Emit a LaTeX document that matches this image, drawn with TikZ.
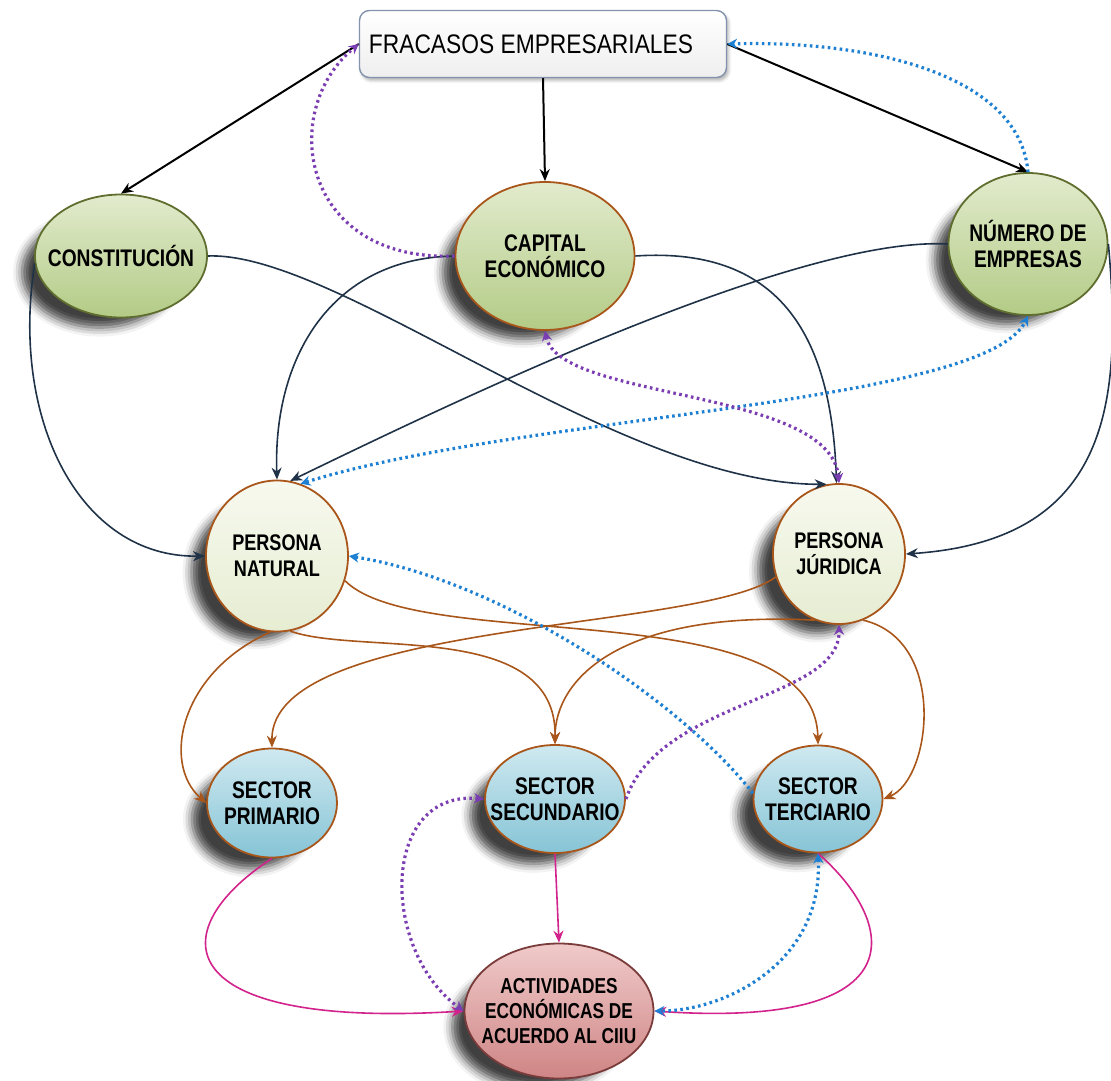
\documentclass[tikz,border=0pt]{standalone}
\usepackage{fontspec}
\newfontfamily\lbl[FakeStretch=0.8]{Liberation Sans}
\newfontfamily\ttl[FakeStretch=0.85]{Liberation Sans}
\usetikzlibrary{shapes.geometric,arrows.meta,shadows.blur}
\definecolor{gtop}{HTML}{E2EBCD}
\definecolor{gbot}{HTML}{B3CB86}
\definecolor{gbrd}{HTML}{5F6E2E}
\definecolor{brn}{HTML}{A9561B}
\definecolor{ptop}{HTML}{F7F9EE}
\definecolor{pbot}{HTML}{E6EDD2}
\definecolor{stop}{HTML}{CFE9F0}
\definecolor{sbot}{HTML}{86C4D6}
\definecolor{atop}{HTML}{F0CACA}
\definecolor{abot}{HTML}{CF8585}
\definecolor{abrd}{HTML}{7A3B3B}
\definecolor{navy}{HTML}{1F3247}
\definecolor{mag}{HTML}{D2238C}
\definecolor{dblue}{HTML}{1E80D2}
\definecolor{dpurp}{HTML}{7B3DB2}
\definecolor{boxbrd}{HTML}{8393AD}
\tikzset{
  nbase/.style={ellipse, draw, line width=0.9pt, inner sep=0pt,
    blur shadow={shadow xshift=-12pt, shadow yshift=-9pt, shadow scale=0.9, shadow blur radius=5pt, shadow opacity=75}},
  gnode/.style={nbase, draw=gbrd, top color=gtop, bottom color=gbot},
  pnode/.style={nbase, draw=brn, top color=ptop, bottom color=pbot},
  snode/.style={nbase, draw=brn, top color=stop, bottom color=sbot},
  anode/.style={nbase, draw=abrd, top color=atop, bottom color=abot},
  txt/.style={align=center, inner sep=0pt, font=\lbl\bfseries\fontsize{12}{13}\selectfont},
  ptxt/.style={txt, font=\lbl\bfseries\fontsize{11.3}{13}\selectfont},
  atxt/.style={txt, font=\lbl\bfseries\fontsize{10.8}{12.6}\selectfont},
  tbox/.style={rectangle, rounded corners=5pt, draw=boxbrd, line width=0.7pt, top color=white, bottom color=gray!13,
    minimum width=183.5pt, minimum height=33.5pt, font=\ttl\fontsize{13.4}{15}\selectfont,
    blur shadow={shadow xshift=1pt, shadow yshift=-1.5pt, shadow blur radius=1.5pt, shadow opacity=30}},
  blk/.style={draw=black, line width=1pt, -{Stealth[length=6pt,width=5pt]}},
  nav/.style={draw=navy, line width=0.8pt, -{Stealth[length=6pt,width=5pt]}},
  brw/.style={draw=brn, line width=0.8pt, -{Stealth[length=6pt,width=5pt]}},
  mgt/.style={draw=mag, line width=0.8pt, -{Stealth[length=6pt,width=5pt]}},
  dotb/.style={draw=dblue, line width=1.6pt, dash pattern=on 1.3pt off 1.7pt, >={Stealth[length=5pt,width=5pt]}},
  dotp/.style={draw=dpurp, line width=1.6pt, dash pattern=on 1.3pt off 1.7pt, >={Stealth[length=5pt,width=5pt]}},
}
\begin{document}
\begin{tikzpicture}[x=0.5pt,y=-0.5pt]
\useasboundingbox (0,0) rectangle (1111,1080);
% nodes
\node[tbox] (frac) at (543,44) {\hspace*{-12pt}FRACASOS EMPRESARIALES};
\node[gnode, minimum width=86pt, minimum height=61.5pt] (const) at (121,256) {};
\node[txt] (constT) at (const) {CONSTITUCIÓN};
\node[gnode, draw=brn, minimum width=89.5pt, minimum height=74pt] (cap) at (545,256) {};
\node[txt] (capT) at (cap) {CAPITAL\\ECONÓMICO};
\node[gnode, minimum width=79.5pt, minimum height=71pt] (num) at (1028,244) {};
\node[txt] (numT) at (num) {NÚMERO DE\\EMPRESAS};
\node[pnode, minimum width=71pt, minimum height=75.5pt] (pn) at (277,556) {};
\node[ptxt] (pnT) at (pn) {PERSONA\\NATURAL};
\node[pnode, minimum width=66pt, minimum height=70pt] (pj) at (839,554) {};
\node[ptxt] (pjT) at (pj) {PERSONA\\JÚRIDICA};
\node[snode, minimum width=65pt, minimum height=54.5pt] (sp) at (272,803) {};
\node[txt] (spT) at (sp) {SECTOR\\PRIMARIO};
\node[snode, minimum width=70pt, minimum height=54pt] (ss) at (555,799) {};
\node[txt] (ssT) at (ss) {SECTOR\\SECUNDARIO};
\node[snode, minimum width=64.5pt, minimum height=53.5pt] (st) at (818,799) {};
\node[txt] (stT) at (st) {SECTOR\\TERCIARIO};
\node[anode, minimum width=94.5pt, minimum height=67.5pt] (act) at (559,1011) {};
\node[atxt] (actT) at (act) {ACTIVIDADES\\ECONÓMICAS DE\\ACUERDO AL CIIU};

% black arrows from the title
\draw[blk] (frac.west) -- (const.north);
\draw[blk] (frac.south) -- (cap.north);
\draw[blk] (frac.east) -- (num.north);

% navy curves
\draw[nav] (const.east) .. controls +(130,-5) and +(-210,0) .. (pj.100);
\draw[nav] (const.185) .. controls (10,420) and (80,558) .. (pn.west);
\draw[nav] (cap.west) .. controls +(-125,2) and +(-4,-120) .. (pn.north);
\draw[nav] (num.west) .. controls +(-150,-8) and +(165,-80) .. (pn.80);
\draw[nav] (num.east) .. controls (1122,400) and (1112,540) .. (pj.east);
\draw[nav] (cap.east) .. controls +(150,-10) and +(-5,-140) .. (pj.92);

% brown curves
\draw[brw] (pn.265) .. controls +(-90,40) and +(-45,-40) .. (sp.west);
\draw[brw] (pn.280) .. controls +(70,25) and +(2,-125) .. (ss.north);
\draw[brw] (pn.-20) .. controls +(75,75) and +(-3,-155) .. (st.north);
\draw[brw] (pj.200) .. controls +(-75,55) and +(-2,-128) .. (sp.north);
\draw[brw] (pj.250) .. controls +(-195,-10) and +(0,-65) .. (ss.north);
\draw[brw] (pj.290) .. controls +(85,20) and +(48,-20) .. (st.east);

% magenta curves
\draw[mgt] (sp.south) .. controls +(-112,73) and +(-294,18) .. (act.west);
\draw[mgt] (ss.south) -- (act.north);
\draw[mgt] (st.south) .. controls +(78,68) and +(267,18) .. (act.east);

% dotted blue
\draw[dotb, ->] (num.north) .. controls +(-8,-95) and +(150,-4) .. (frac.east);
\draw[dotb, <->] (pn.72) .. controls (520,415) and (985,405) .. (num.south);
\draw[dotb, ->] (st.175) .. controls (680,700) and (500,580) .. (pn.east);
\draw[dotb, <->] (st.south) .. controls +(5,110) and +(70,0) .. (act.east);

% dotted purple
\draw[dotp, ->] (cap.west) .. controls (300,262) and (278,110) .. (frac.west);
\draw[dotp, <->] (cap.south) .. controls +(14,70) and +(-8,-95) .. (pj.north);
\draw[dotp, ->] (ss.east) .. controls (660,700) and (840,700) .. (pj.south);
\draw[dotp, <->] (ss.west) .. controls (380,790) and (380,950) .. (act.west);
\end{tikzpicture}
\end{document}
